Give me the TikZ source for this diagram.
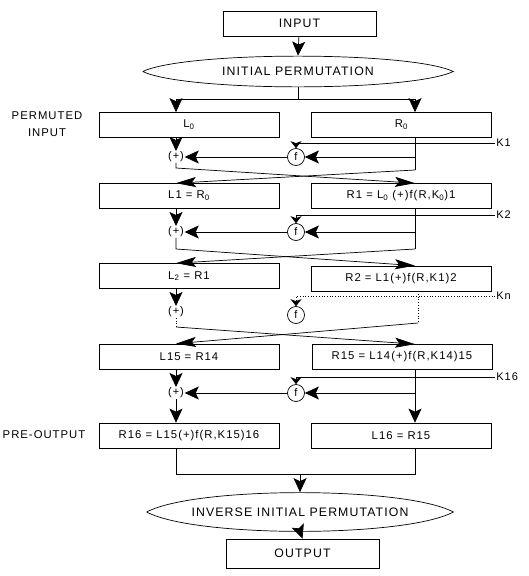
\documentclass[tikz,border=0pt]{standalone}
\usepackage{fontspec}
\setmainfont{Liberation Sans}[LetterSpace=9]
\usetikzlibrary{arrows.meta}

\begin{document}
\begin{tikzpicture}[x=1pt,y=-1pt,line width=0.7pt,
	box/.style={draw,minimum width=180pt,minimum height=25pt,inner sep=0pt,font=\fontsize{11.3}{13}\selectfont},
	iobox/.style={draw,minimum width=153pt,inner sep=0pt,font=\fontsize{12.3}{14}\selectfont},
	lens/.style={inner sep=0pt,font=\fontsize{12.3}{14}\selectfont},
	fnode/.style={circle,draw,minimum size=17pt,inner sep=0pt,font=\fontsize{11}{12}\selectfont},
	xnode/.style={inner sep=0.5pt,font=\fontsize{11}{12}\selectfont},
	knode/.style={anchor=west,inner sep=1pt,font=\fontsize{11}{12}\selectfont},
	side/.style={align=center,font=\fontsize{11.3}{17}\selectfont},
	arr/.style={-{Stealth[length=14pt,width=13pt,inset=3pt,fill=black]}},
	carr/.style={-{Stealth[length=20pt,width=10pt,inset=4pt,fill=black]}},
	karr/.style={-{Stealth[length=7pt,width=11pt,inset=2pt,fill=black]}}]
	\useasboundingbox (0,0) rectangle (529,576);

	% input and initial permutation
	\node[iobox,minimum height=25pt] (input) at (299.5,23.5) {INPUT};
	\node[lens,minimum width=310pt,minimum height=31pt] (ip) at (298,71.5) {INITIAL PERMUTATION};
	\draw (ip.west) to[bend left=25,looseness=0.4] (ip.east) to[bend left=25,looseness=0.4] (ip.west);
	\draw[arr] (input) -- (ip.north);
	\coordinate (split) at (298,99);
	\coordinate (sl) at (176,99);
	\coordinate (sr) at (415,99);
	\draw (ip.south) -- (split);
	\draw (sl) -- (sr);

	\node[side] (pin) at (47,124) {PERMUTED\\INPUT};
	\node[box] (l0) at (189,125) {L\textsubscript{0}};
	\node[box] (r0) at (401.5,125) {R\textsubscript{0}};
	\draw[arr] (sl) -- (sl |- l0.north);
	\draw[arr] (sr) -- (sr |- r0.north);

	% round 1
	\node[xnode] (x1) at (176,157) {(+)};
	\node[fnode] (f1) at (296,157) {f};
	\node[knode] (k1) at (495,143) {K1};
	\coordinate (b1) at (415,170);
	\coordinate (c1) at (176,168);
	\node[box] (l1) at (189,196) {L1 = R\textsubscript{0}};
	\node[box] (r1) at (401,196) {R1 = L\textsubscript{0} (+)f(R,K\textsubscript{0})1};
	\draw[karr] (k1.west) -| (f1.north);
	\draw (r0.south -| b1) -- (b1);
	\draw[arr] (b1 |- f1) -- (f1.east);
	\draw[arr] (f1.west) -- (x1.east);
	\draw[arr] (l0.south -| x1) -- (x1.north);
	\draw[carr] (x1.south) -- (c1) -- (r1.north -| b1);
	\draw[carr] (b1) -- (l1.north -| c1);

	% round 2
	\node[xnode] (x2) at (176,232) {(+)};
	\node[fnode] (f2) at (296,232) {f};
	\node[knode] (k2) at (495,215) {K2};
	\coordinate (b2) at (415,249);
	\coordinate (c2) at (176,249);
	\node[box] (l2) at (189,276) {L\textsubscript{2} = R1};
	\node[box] (r2) at (401,278.5) {R2 = L1(+)f(R,K1)2};
	\draw[karr] (k2.west) -| (f2.north);
	\draw (r1.south -| b2) -- (b2);
	\draw[arr] (b2 |- f2) -- (f2.east);
	\draw[arr] (f2.west) -- (x2.east);
	\draw[arr] (l1.south -| x2) -- (x2.north);
	\draw[carr] (x2.south) -- (c2) -- (r2.north -| b2);
	\draw[carr] (b2) -- (l2.north -| c2);

	% rounds 3 to 15
	\node[xnode] (x3) at (176,312) {(+)};
	\node[fnode] (f3) at (296,315) {f};
	\node[knode] (kn) at (495,296) {Kn};
	\coordinate (b3) at (418,323);
	\coordinate (c3) at (176,327);
	\node[box] (l15) at (189,356.5) {L15 = R14};
	\node[box] (r15) at (402,357) {R15 = L14(+)f(R,K14)15};
	\draw[karr,dotted] (kn.west) -| (f3.north);
	\draw[dotted] (r2.south -| b3) -- (b3);
	\draw[dotted] (x3.south) -- (c3);
	\draw[arr] (l2.south -| x3) -- (x3.north);
	\draw[carr] (c3) -- (r15.north -| b2);
	\draw[carr] (b3) -- (l15.north -| c3);

	% round 16
	\node[xnode] (x16) at (176,393) {(+)};
	\node[fnode] (f16) at (296,393) {f};
	\node[knode] (k16) at (495,377) {K16};
	\node[side] (pout) at (44,435) {PRE-OUTPUT};
	\node[box] (r16) at (189,435.5) {R16 = L15(+)f(R,K15)16};
	\node[box] (l16) at (401,435.5) {L16 = R15};
	\draw[karr] (k16.west) -| (f16.north);
	\draw[arr] (r15.south -| b2) -- (l16.north -| b2);
	\draw[arr] (b2 |- f16) -- (f16.east);
	\draw[arr] (f16.west) -- (x16.east);
	\draw[arr] (l15.south -| x16) -- (x16.north);
	\draw[arr] (x16.south) -- (r16.north -| x16);

	% output
	\coordinate (ml) at (176,474);
	\coordinate (mr) at (415,474);
	\node[lens,minimum width=306pt,minimum height=39pt] (iip) at (300,512) {INVERSE INITIAL PERMUTATION};
	\draw (iip.west) to[bend left=28,looseness=0.46] (iip.east) to[bend left=28,looseness=0.46] (iip.west);
	\node[iobox,minimum height=29pt] (output) at (302.5,553.5) {OUTPUT};
	\draw (r16.south -| ml) -- (ml) -- (mr) -- (l16.south -| mr);
	\draw[arr] (ml -| iip) -- (iip.north);
	\draw[arr] (iip.south) -- (output.north);
\end{tikzpicture}
\end{document}
